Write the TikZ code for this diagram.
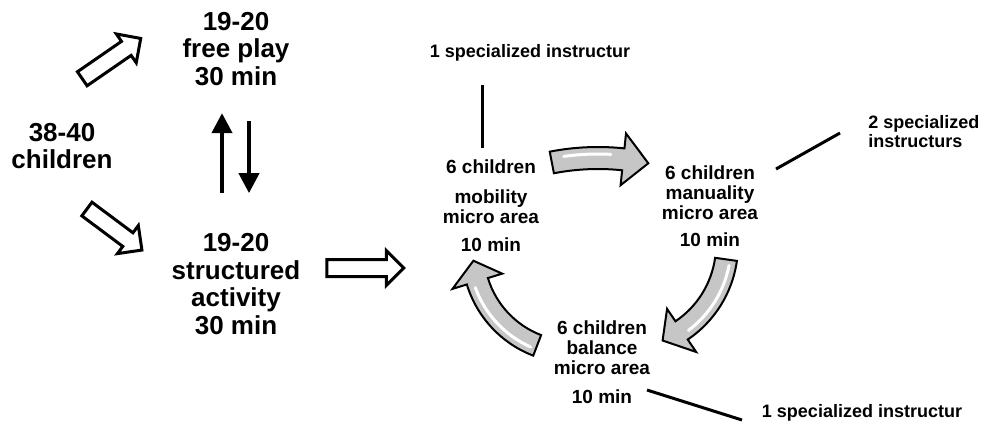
\documentclass[tikz,border=0pt]{standalone}
\usepackage{fontspec}
\setmainfont{Liberation Sans}
\usetikzlibrary{arrows.meta,shapes.arrows}
\definecolor{arrowgray}{HTML}{C6C6C6}

% half widths of the curved arrows (shaft, head)
\newcommand\aw{11}
\newcommand\ah{26}
% centre, radius, start angle, head base angle, tip angle
\newcommand\cyclepath[5]{([shift={(#3:#2+\aw)}]#1)
  arc[start angle=#3,end angle=#4,radius=#2+\aw]
  -- ([shift={(#4:#2+\ah)}]#1) -- ([shift={(#5:#2)}]#1)
  -- ([shift={(#4:#2-\ah)}]#1) -- ([shift={(#4:#2-\aw)}]#1)
  arc[start angle=#4,end angle=#3,radius=#2-\aw] -- cycle}
\newcommand\cyclearrow[5]{%
  \fill[black,shift={(3,4)}] \cyclepath{#1}{#2}{#3}{#4}{#5};
  \filldraw[fill=arrowgray,draw=black,line width=1pt] \cyclepath{#1}{#2}{#3}{#4}{#5};
  \draw[white,line width=1.5pt,line cap=round]
    ([shift={(#3+3:#2+4)}]#1) arc[start angle=#3+3,end angle=#4-3,radius=#2+4];}

\begin{document}
\begin{tikzpicture}[
x=0.5pt,y=-0.5pt,
big/.style={align=center,inner sep=0pt,
font=\fontsize{13}{13.75}\selectfont\bfseries},
area/.style={align=center,inner sep=0pt,
font=\fontsize{9.5}{10}\selectfont\bfseries},
staff/.style={inner sep=0pt,font=\fontsize{9}{9.5}\selectfont\bfseries},
hollow/.style={single arrow,draw,fill=white,line width=1.5pt,
inner sep=3.5pt,single arrow head extend=4.5pt},
flow/.style={-{Triangle[width=10pt,length=10pt]},line width=2pt},
tie/.style={line width=1.5pt}
]
\useasboundingbox (0,0) rectangle (988,425);

% left part
\node[big] (kids)   at (62,146)  {38-40\\children};
\node[big] (free)   at (236,49)  {19-20\\free play\\30 min};
\node[big] (struct) at (236,284) {19-20\\structured\\activity\\30 min};

\node[hollow,minimum height=35.5pt,rotate=34.6]  (go1) at (108,61)  {};
\node[hollow,minimum height=34.3pt,rotate=-36.7] (go2) at (111,227) {};
\node[hollow,minimum height=38.5pt]              (go3) at (361,268) {};

\draw[flow,shorten <=20pt,shorten >=13.5pt]
  ([xshift=-7pt]struct.north) -- ([xshift=-7pt]free.south);
\draw[flow,shorten <=17.5pt,shorten >=20pt]
  ([xshift=6.5pt]free.south) -- ([xshift=6.5pt]struct.north);

% micro areas
\node[area] (mob)  at (491,206) {6 children\\[5pt]mobility\\micro area\\[4pt]10 min};
\node[area] (manu) at (710,206) {6 children\\manuality\\micro area\\[3.5pt]10 min};
\node[area] (bal)  at (602,362) {6 children\\balance\\micro area\\[4.5pt]10 min};

\coordinate (c1) at (598,400);
\coordinate (c2) at (624,245);
\coordinate (c3) at (573,252);
\cyclearrow{c1}{242}{259}{276}{282}
\cyclearrow{c2}{103}{8}{56}{68}
\cyclearrow{c3}{100}{111}{163}{175}

% instructors
\node[staff] (inst1) at (530,53) {1 specialized instructur};
\node[staff,align=left,anchor=west] (inst2) at (868,132)
  {2 specialized\\instructurs};
\node[staff] (inst3) at (862,413) {1 specialized instructur};

\coordinate (t1a) at (482,85);  \coordinate (t1b) at (482,148);
\coordinate (t2a) at (776,169); \coordinate (t2b) at (840,133);
\coordinate (t3a) at (647,390); \coordinate (t3b) at (742,420);
\foreach \a/\b in {t1a/t1b,t2a/t2b,t3a/t3b}
\draw[tie] (\a) -- (\b);
\end{tikzpicture}
\end{document}
